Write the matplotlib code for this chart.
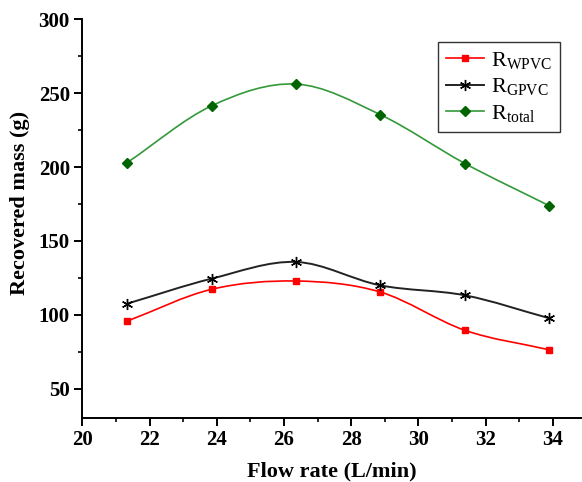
import matplotlib
matplotlib.use("Agg")
import matplotlib.pyplot as plt
from matplotlib.path import Path
from matplotlib.patches import PathPatch
from matplotlib.lines import Line2D
from matplotlib.ticker import MultipleLocator

flow_rate = [21.34, 23.85, 26.36, 28.86, 31.39, 33.88]
r_wpvc = [95.8, 117.3, 122.9, 115.5, 89.5, 76.4]
r_gpvc = [107.6, 124.5, 135.8, 120.0, 113.2, 97.8]
r_total = [203.1, 241.5, 256.2, 235.6, 202.4, 174.0]
labels = [r"R$_{\mathrm{WPVC}}$", r"R$_{\mathrm{GPVC}}$", r"R$_{\mathrm{total}}$"]
x_ticks = [20, 22, 24, 26, 28, 30, 32, 34]
y_ticks = [50, 100, 150, 200, 250, 300]

plt.rcParams['font.family'] = ['Liberation Serif', 'DejaVu Serif']
plt.rcParams['mathtext.fontset'] = 'custom'
plt.rcParams['mathtext.rm'] = 'Liberation Serif'
plt.rcParams['mathtext.it'] = 'Liberation Serif:italic'
plt.rcParams['mathtext.bf'] = 'Liberation Serif:bold'


def smooth_path(xs, ys):
    n = len(xs)
    verts = [(xs[0], ys[0])]
    codes = [Path.MOVETO]
    def tangent(i):
        if i == 0:
            return (xs[1] - xs[0], ys[1] - ys[0])
        if i == n - 1:
            return (xs[-1] - xs[-2], ys[-1] - ys[-2])
        return ((xs[i + 1] - xs[i - 1]) / 2.0, (ys[i + 1] - ys[i - 1]) / 2.0)
    for i in range(n - 1):
        t0 = tangent(i)
        t1 = tangent(i + 1)
        c1 = (xs[i] + t0[0] / 3.0, ys[i] + t0[1] / 3.0)
        c2 = (xs[i + 1] - t1[0] / 3.0, ys[i + 1] - t1[1] / 3.0)
        verts += [c1, c2, (xs[i + 1], ys[i + 1])]
        codes += [Path.CURVE4, Path.CURVE4, Path.CURVE4]
    return Path(verts, codes)


fig = plt.figure(figsize=(5.82, 4.82), dpi=100)
ax = fig.add_axes([0.1414, 0.1338, 0.8586, 0.826])

series = [
    (r_wpvc, '#ff0000', '#ff0000', 's', 5, 1.2, 1.0),
    (r_gpvc, '#222222', '#000000', (6, 2, 0), 8, 1.4, 1.0),
    (r_total, '#33993a', '#006400', 'D', 5, 1.2, 1.0),
]
handles = []
for (vals, lc, mc, mk, ms, lw, mew), lab in zip(series, labels):
    ax.add_patch(PathPatch(smooth_path(flow_rate, vals), facecolor='none',
                           edgecolor=lc, lw=lw, zorder=2))
    ax.plot(flow_rate, vals, ls='none', marker=mk, ms=ms, color=mc,
            markeredgecolor=mc, markeredgewidth=mew, zorder=3)
    handles.append(Line2D([], [], color=lc, lw=lw, marker=mk, ms=ms,
                          markerfacecolor=mc, markeredgecolor=mc,
                          markeredgewidth=mew, label=lab))

ax.set_xlim(20, 34.87)
ax.set_ylim(30.5, 300)
ax.set_xticks(x_ticks)
ax.set_yticks(y_ticks)
ax.xaxis.set_minor_locator(MultipleLocator(1))
ax.yaxis.set_minor_locator(MultipleLocator(25))

for s in ['top', 'right']:
    ax.spines[s].set_visible(False)
for s in ['left', 'bottom']:
    ax.spines[s].set_linewidth(1.4)
ax.tick_params(which='major', direction='out', length=6, width=1.4,
               labelsize=15, pad=3)
ax.tick_params(which='minor', direction='out', length=3, width=1.2)
for lbl in ax.get_xticklabels() + ax.get_yticklabels():
    lbl.set_fontweight('bold')

ax.set_xlabel('Flow rate (L/min)', fontsize=16, fontweight='bold', labelpad=8)
ax.set_ylabel('Recovered mass (g)', fontsize=16, fontweight='bold')
ax.yaxis.set_label_coords(-0.104, 0.54)

leg = ax.legend(handles=handles, loc='upper right',
                bbox_to_anchor=(560 / 582, 1 - 42 / 482),
                bbox_transform=fig.transFigure, borderaxespad=0,
                fancybox=False, frameon=True, fontsize=16, handlelength=1.75,
                handletextpad=0.3, labelspacing=0.25, borderpad=0.35)
leg.get_frame().set_edgecolor('black')
leg.get_frame().set_linewidth(1.0)

fig.savefig('out.png', dpi=100)
